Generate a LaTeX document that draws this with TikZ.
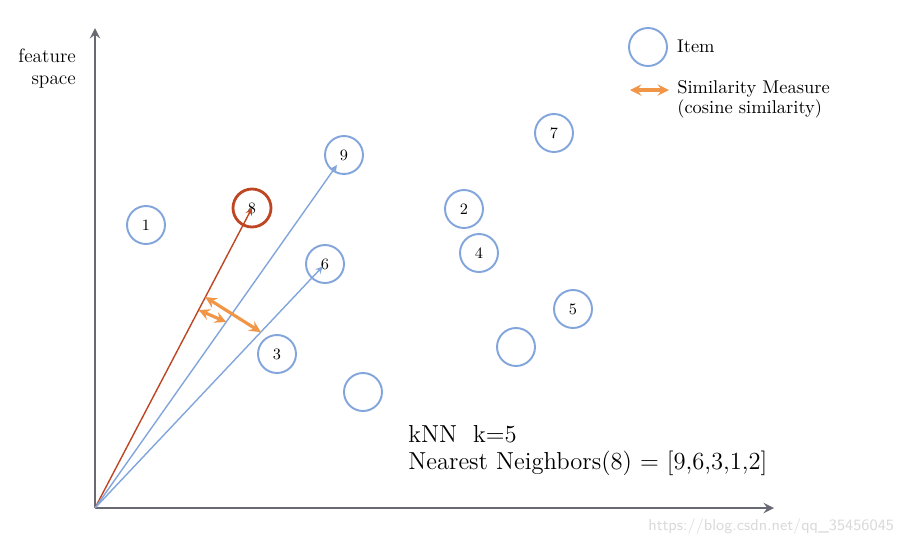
\documentclass[tikz,border=0pt]{standalone}
\usepackage{xcolor}
\usetikzlibrary{arrows,calc}
\definecolor{itemblue}{RGB}{130,165,220}
\definecolor{querred}{RGB}{190,70,35}
\definecolor{simorange}{RGB}{240,150,70}
\definecolor{axisgray}{RGB}{105,105,115}

\begin{document}
\begin{tikzpicture}[x=0.02cm,y=-0.02cm,
    item/.style={circle,draw=itemblue,line width=1.1pt,minimum size=0.76cm,inner sep=0pt,font=\small},
    query/.style={item,draw=querred,line width=1.6pt},
    vec/.style={-stealth,line width=0.8pt,draw=itemblue},
    sim/.style={stealth-stealth,line width=1.8pt,draw=simorange},
    axis/.style={-stealth,line width=1.6pt,draw=axisgray}]
    \useasboundingbox (0,0) rectangle (899,545);
    \coordinate (O) at (95,508);
    \coordinate (Ytop) at (95,28);
    \coordinate (Xend) at (774,508);
    \draw[axis] (O) -- (Ytop);
    \draw[axis] (O) -- (Xend);
    \node[align=right,anchor=east,font=\fontsize{11}{12.5}\selectfont] (fs) at (82,69) {feature\\space};
    % items
    \node[item] (i1) at (146,225) {1};
    \node[query] (i8) at (252,208) {8};
    \node[item] (i9) at (344,155) {9};
    \node[item] (i6) at (325,264) {6};
    \node[item] (i3) at (277,354) {3};
    \node[item] (i2) at (464,209) {2};
    \node[item] (i4) at (479,253) {4};
    \node[item] (i7) at (554,133) {7};
    \node[item] (i5) at (573,309) {5};
    \node[item] (iA) at (516,347) {};
    \node[item] (iB) at (363,392) {};
    % vectors
    \draw[vec,draw=querred] (O) -- (i8.center);
    \draw[vec,shorten >=7pt] (O) -- (i9.center);
    \draw[vec,shorten >=2pt] (O) -- (i6.center);
    \coordinate (r1) at ($(O)!0.703!(i8.center)$);
    \coordinate (r2) at ($(O)!0.66!(i8.center)$);
    \coordinate (b9) at ($(O)!0.527!(i9.center)$);
    \coordinate (b6) at ($(O)!0.721!(i6.center)$);
    \draw[sim] (r1) -- (b6);
    \draw[sim] (r2) -- (b9);
    % legend
    \node[item] (leg) at (648,47) {};
    \node[anchor=west,font=\fontsize{10.5}{11.5}\selectfont] (legitem) at (671,46) {Item};
    \coordinate (la) at (630,90);
    \coordinate (lb) at (669,90);
    \draw[sim] (la) -- (lb);
    \node[anchor=north west,align=left,font=\fontsize{10.5}{11.3}\selectfont,inner sep=0pt] (legsim) at (677,80) {Similarity Measure\\(cosine similarity)};
    % result
    \node[anchor=north west,align=left,font=\fontsize{14}{15.4}\selectfont,inner sep=0pt] (res) at (408,425) {kNN\ \ k=5\\Nearest Neighbors(8) = [9,6,3,1,2]};
    \node[anchor=west,font=\sffamily\small,text=black!15,inner sep=0pt] (wm) at (648,527) {https://blog.csdn.net/qq\_35456045};
\end{tikzpicture}
\end{document}
